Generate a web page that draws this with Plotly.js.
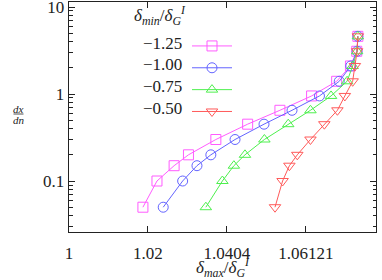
<!DOCTYPE html>
<html><head><meta charset="utf-8">
<script src="https://cdn.plot.ly/plotly-3.0.1.min.js"></script>
<style>html,body{margin:0;padding:0;background:#fff}#c{width:382px;height:280px}</style>
</head><body><div id="c"></div>
<script>
// shared y values (dx/dn) for all series
const dxdn = [0.05, 0.1, 0.15, 0.2, 0.3, 0.45, 0.65, 0.95, 1.4, 2.1, 3.1, 4.6];
// x values (delta_max / delta_G^I) per series
const x_m125 = [1.0187, 1.0223, 1.0267, 1.0304, 1.0375, 1.0458, 1.0543, 1.0627, 1.0694, 1.0731, 1.0748, 1.0751];
const x_m100 = [1.0239, 1.0289, 1.0326, 1.0362, 1.0425, 1.0501, 1.0575, 1.0648, 1.0701, 1.0732, 1.0749, 1.0751];
const x_m075 = [1.0349, 1.0392, 1.0422, 1.0451, 1.0502, 1.0565, 1.0624, 1.0679, 1.0722, 1.0737, 1.0749, 1.0751];
const x_m050 = [1.0530, 1.0550, 1.0568, 1.0589, 1.0624, 1.0661, 1.0696, 1.0716, 1.0737, 1.0743, 1.0749, 1.0751];
const seriesNames = ["\u22121.25", "\u22121.00", "\u22120.75", "\u22120.50"];
const xTickVals = [1, 1.02, 1.0404, 1.06121];
const xTickText = ["1", "1.02", "1.0404", "1.06121"];
const yTickVals = [0.1, 1, 10];
const yTickText = ["0.1", "1", "10"];

const colors = ["#ff5cff", "#6464ff", "#4ef04e", "#ff5a5a"];
const symbols = ["square-open", "circle-open", "triangle-up-open", "triangle-down-open"];
const xs = [x_m125, x_m100, x_m075, x_m050];

const traces = xs.map((x, i) => ({
  x: x, y: dxdn, type: "scatter", mode: "lines+markers", name: "",
  yaxis: i === 3 ? "y2" : "y",
  line: {color: colors[i], width: 1},
  marker: {symbol: symbols[i], size: 10, color: colors[i], line: {width: 1, color: colors[i]}},
  hoverinfo: "none"
}));

// all y tick positions: decades labelled, 2..9 multiples unlabelled
const yAllVals = [], yAllText = [];
[0.01, 0.1, 1].forEach(d => {
  for (let k = 2; k <= 9; k++) { yAllVals.push(+(d * k).toPrecision(3)); yAllText.push(""); }
});
yTickVals.forEach((v, i) => { yAllVals.push(v); yAllText.push(yTickText[i]); });

const L = 69, R = 6, T = 2, B = 48, W = 382, H = 280;
const pw = W - L - R, ph = H - T - B;
const px = v => (v - L) / pw;
const py = v => 1 - (v - T) / ph;
const serif = "Liberation Serif, DejaVu Serif, serif";
const yRange = [-1.586, 1.0575];

const annotations = [];
seriesNames.forEach((s, i) => {
  annotations.push({xref: "paper", yref: "paper", x: px(184), y: py([43.3, 64.5, 86, 108][i]),
    xanchor: "right", yanchor: "middle", text: s, showarrow: false,
    font: {family: serif, size: 17, color: "#222"}});
});
annotations.push({xref: "paper", yref: "paper", x: px(188), y: py(15), xanchor: "right", yanchor: "middle",
  text: "<i>δ</i><sub><i>min</i></sub>/<i>δ</i><sub><i>G</i></sub><sup><i>I</i></sup>", showarrow: false,
  font: {family: serif, size: 17, color: "#222"}});
annotations.push({xref: "paper", yref: "paper", x: px(18.5), y: py(108.5), xanchor: "center", yanchor: "middle",
  text: "<i>dx</i>", showarrow: false, font: {family: serif, size: 11, color: "#222"}});
annotations.push({xref: "paper", yref: "paper", x: px(18.5), y: py(119.5), xanchor: "center", yanchor: "middle",
  text: "<i>dn</i>", showarrow: false, font: {family: serif, size: 11, color: "#222"}});

const layout = {
  width: W, height: H, margin: {l: L, r: R, t: T, b: B, pad: 0},
  paper_bgcolor: "#fff", plot_bgcolor: "#fff",
  font: {family: serif, size: 17, color: "#222"},
  showlegend: true,
  legend: {x: px(187), y: py(30), xanchor: "left", yanchor: "top", bgcolor: "rgba(0,0,0,0)",
    font: {family: serif, size: 14.5}, itemwidth: 40, traceorder: "normal"},
  xaxis: {type: "log", range: [0, Math.log10(1.08)], tickmode: "array", tickvals: xTickVals, ticktext: xTickText,
    ticks: "inside", ticklen: 6, tickcolor: "#222", showline: true, linecolor: "#222", linewidth: 1.3, mirror: "ticks",
    showgrid: false, zeroline: false, tickfont: {family: serif, size: 17}, ticklabelstandoff: 5,
    ticklabeloverflow: "allow",
    title: {text: "<i>δ</i><sub><i>max</i></sub>/<i>δ</i><sub><i>G</i></sub><sup><i>I</i></sup>", font: {family: serif, size: 17}, standoff: 3}},
  yaxis: {type: "log", range: yRange, tickmode: "array", tickvals: yAllVals, ticktext: yAllText,
    ticks: "inside", ticklen: 3.5, tickcolor: "#222", tickwidth: 1, showline: true, linecolor: "#222", linewidth: 1.3, mirror: "ticks",
    showgrid: false, zeroline: false, tickfont: {family: serif, size: 17}, ticklabeloverflow: "allow"},
  yaxis2: {type: "log", range: yRange, overlaying: "y", anchor: "x", side: "left", tickmode: "array", tickvals: yTickVals,
    ticks: "inside", ticklen: 6, tickcolor: "#222", showticklabels: false, showline: false, mirror: "ticks",
    showgrid: false, zeroline: false},
  annotations: annotations,
  shapes: [{type: "line", xref: "paper", yref: "paper", x0: px(13.5), x1: px(23.5), y0: py(114), y1: py(114),
    line: {color: "#222", width: 0.8}}]
};

Plotly.newPlot("c", traces, layout, {staticPlot: true, displayModeBar: false});
</script></body></html>
